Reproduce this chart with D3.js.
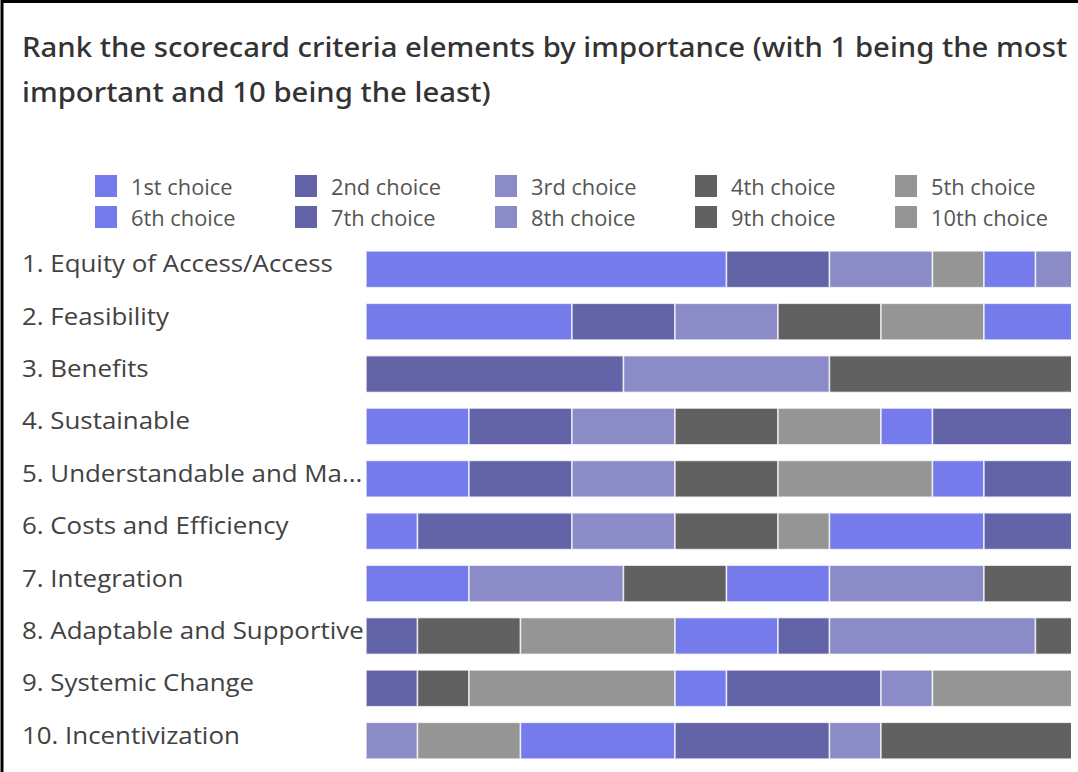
<!DOCTYPE html>
<html>
<head>
<meta charset="utf-8">
<script src="https://cdn.jsdelivr.net/npm/d3@7"></script>
<style>
  html, body { margin: 0; padding: 0; background: #fff; }
  svg { display: block; }
</style>
</head>
<body>
<div id="chart"></div>
<script>
// rows (criteria) as shown, top to bottom
const categories = [
    "1. Equity of Access/Access",
    "2. Feasibility",
    "3. Benefits",
    "4. Sustainable",
    "5. Understandable and Ma...",
    "6. Costs and Efficiency",
    "7. Integration",
    "8. Adaptable and Supportive",
    "9. Systemic Change",
    "10. Incentivization"
]

const choiceNames = ["1st choice", "2nd choice", "3rd choice", "4th choice", "5th choice",
    "6th choice", "7th choice", "8th choice", "9th choice", "10th choice"]

// number of responses per choice, one value per criterion (same order as categories)
const choice1  = [7, 4, 0, 2, 2, 1, 2, 0, 0, 0]
const choice2  = [2, 2, 5, 2, 2, 3, 0, 1, 1, 0]
const choice3  = [2, 2, 4, 2, 2, 2, 3, 0, 0, 1]
const choice4  = [0, 2, 5, 2, 2, 2, 2, 2, 1, 0]
const choice5  = [1, 2, 0, 2, 3, 1, 0, 3, 4, 2]
const choice6  = [1, 2, 0, 1, 1, 3, 2, 2, 1, 3]
const choice7  = [0, 0, 0, 3, 2, 2, 0, 1, 3, 3]
const choice8  = [1, 0, 0, 0, 0, 0, 3, 4, 1, 1]
const choice9  = [0, 0, 0, 0, 0, 0, 2, 1, 0, 4]
const choice10 = [0, 0, 0, 0, 0, 0, 0, 0, 3, 0]

const titleLines = [
    "Rank the scorecard criteria elements by importance (with 1 being the most",
    "important and 10 being the least)"
]

const palette = ["#767BEB", "#6264A7", "#8B8CC7", "#616161", "#959595"]

const width = 1078, height = 772
const fontFamily = "'Segoe UI', 'Open Sans', 'Noto Sans', sans-serif"

const svg = d3.select("#chart")
    .append("svg")
    .attr("width", width)
    .attr("height", height)

// frame: only the top and left edges are visible in the cropped screenshot
svg.append("path")
    .attr("d", `M2,${height} L2,1.5 L${width},1.5`)
    .attr("fill", "none")
    .attr("stroke", "#000")
    .attr("stroke-width", 3)

// the original font (Segoe UI) is narrower than what we have,
// so keep the glyph height and squeeze horizontally to the measured width
function condense(texts, size, refIndex, targetWidth, x0, yOf) {
    texts.style("font-size", size + "px").attr("x", 0)
    const w = texts.nodes()[refIndex].getComputedTextLength()
    const sx = targetWidth / w
    texts.attr("transform", (d, i) => `translate(${x0},${yOf(d, i)}) scale(${sx},1)`)
}

// title
const title = svg.append("g").selectAll("text")
    .data(titleLines)
    .enter()
    .append("text")
    .attr("fill", "#333")
    .style("font-family", "'Segoe UI', 'Noto Sans', 'Open Sans', sans-serif")
    .style("font-weight", "500")
    .text(d => d)
condense(title, 27.5, 0, 1046, 22, (d, i) => 57 + i * 45)

// data table for the stack
const allChoices = [choice1, choice2, choice3, choice4, choice5, choice6, choice7, choice8, choice9, choice10]
const table = categories.map((c, i) => {
    const row = { category: c }
    choiceNames.forEach((n, k) => row[n] = allChoices[k][i])
    return row
})
const series = d3.stack().keys(choiceNames)(table)
const total = d3.max(series[series.length - 1], d => d[1])

const color = d3.scaleOrdinal()
    .domain(choiceNames)
    .range(choiceNames.map((n, i) => palette[i % 5]))

// legend
const legend = svg.append("g").selectAll("g")
    .data(choiceNames)
    .enter()
    .append("g")
    .attr("transform", (d, i) => `translate(${95 + (i % 5) * 200},${175 + Math.floor(i / 5) * 31})`)

legend.append("rect")
    .attr("width", 22)
    .attr("height", 22)
    .attr("fill", d => color(d))

const legendText = legend.append("text")
    .attr("fill", "#555")
    .style("font-family", fontFamily)
    .text(d => d)
condense(legendText, 21, 9, 117, 36, () => 19.5)

// scales
const unit = 51.5
const x = d3.scaleLinear()
    .domain([0, total])
    .range([366, 366 + total * unit])

const y = d3.scaleBand()
    .domain(categories)
    .range([243.1, 766.9])
    .paddingInner(0.3)
    .paddingOuter(0.15)

// category labels
const labels = svg.append("g").selectAll("text")
    .data(categories)
    .enter()
    .append("text")
    .attr("fill", "#424242")
    .style("font-family", fontFamily)
    .text(d => d)
condense(labels, 24.5, 0, 311, 22, d => y(d) + y.bandwidth() / 2 + 3)

// bars are cut at the right edge of the screenshot
svg.append("clipPath")
    .attr("id", "clip")
    .append("rect")
    .attr("x", 0)
    .attr("y", 0)
    .attr("width", 1071)
    .attr("height", height)

svg.append("g")
    .attr("clip-path", "url(#clip)")
    .selectAll("g")
    .data(series)
    .enter()
    .append("g")
    .attr("fill", d => color(d.key))
    .selectAll("rect")
    .data(d => d.filter(s => s[1] > s[0]))
    .enter()
    .append("rect")
    .attr("x", d => x(d[0]))
    .attr("y", d => y(d.data.category))
    .attr("width", d => x(d[1]) - x(d[0]))
    .attr("height", y.bandwidth())
    .attr("stroke", "#fff")
    .attr("stroke-opacity", 0.75)
    .attr("stroke-width", 1.5)
</script>
</body>
</html>
